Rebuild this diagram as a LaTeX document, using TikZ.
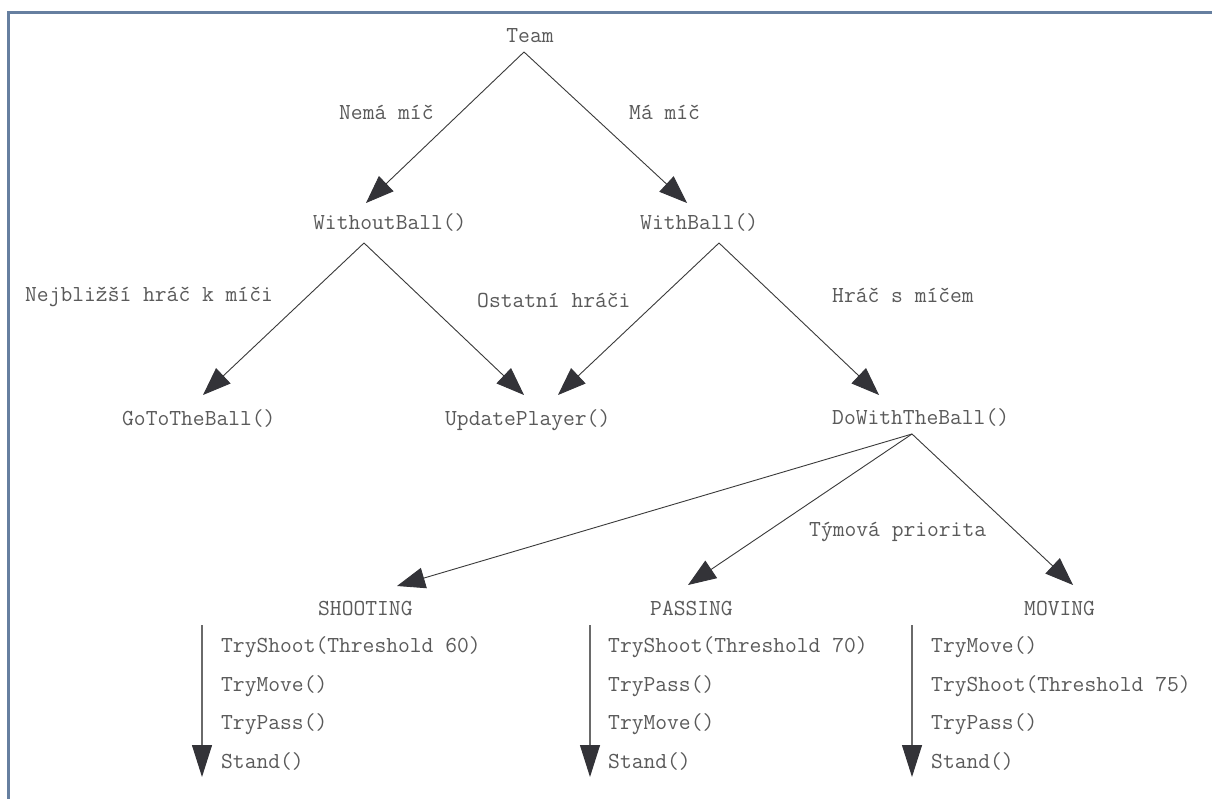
\documentclass[tikz,border=0pt]{standalone}
\usepackage{fontspec}
\usetikzlibrary{arrows.meta}
\definecolor{txtgray}{HTML}{5A5A5A}
\definecolor{linegray}{HTML}{3A3A3A}
\definecolor{headgray}{HTML}{333338}
\definecolor{vgray}{HTML}{6A6A6A}
\definecolor{frameblue}{HTML}{667FA0}
\tikzset{
  lbl/.style={inner sep=0pt, text=txtgray, font=\ttfamily\fontsize{22.9}{27}\selectfont, anchor=base},
  lblw/.style={lbl, anchor=base west},
  conn/.style={draw=linegray, line width=0.9pt, -{Triangle[length=28pt,width=21pt,fill=headgray,color=headgray]}},
  seqarrow/.style={draw=vgray, line width=1.1pt, -{Triangle[length=32pt,width=20pt,fill=headgray,color=headgray]}},
}
\begin{document}
\begin{tikzpicture}[x=1pt,y=-1pt]
\useasboundingbox (0,0) rectangle (1212,799);
\fill[white] (0,0) rectangle (1212,799);
% frame
\draw[frameblue, line width=3pt] (8.5,799) -- (8.5,12.5) -- (1212,12.5);

% nodes
\node[lbl] (team) at (530,43) {Team};
\node[lblw] (lnema) at (339,120) {Nemá míč};
\node[lblw] (lma) at (629,120) {Má míč};
\node[lblw] (wob) at (313,230) {WithoutBall()};
\node[lblw] (wb) at (640,230) {WithBall()};
\node[lblw] (lnej) at (25,302) {Nejbližší hráč k míči};
\node[lblw] (lost) at (477,308) {Ostatní hráči};
\node[lblw] (lhrac) at (832,303) {Hráč s míčem};
\node[lblw] (goto) at (122,425) {GoToTheBall()};
\node[lblw] (upd) at (445,425) {UpdatePlayer()};
\node[lblw] (dwtb) at (832,424) {DoWithTheBall()};
\node[lblw] (ltym) at (809,536) {Týmová priorita};
\node[lblw] (shoot) at (318,615) {SHOOTING};
\node[lblw] (pass) at (650,615) {PASSING};
\node[lblw] (move) at (1024,615) {MOVING};

% sequences
\node[lblw] (s1) at (221,652) {TryShoot(Threshold 60)};
\node[lblw] (s2) at (221,691) {TryMove()};
\node[lblw] (s3) at (221,729.5) {TryPass()};
\node[lblw] (s4) at (221,768) {Stand()};
\node[lblw] (p1) at (608,652) {TryShoot(Threshold 70)};
\node[lblw] (p2) at (608,691) {TryPass()};
\node[lblw] (p3) at (608,729.5) {TryMove()};
\node[lblw] (p4) at (608,768) {Stand()};
\node[lblw] (m1) at (931,652) {TryMove()};
\node[lblw] (m2) at (931,691) {TryShoot(Threshold 75)};
\node[lblw] (m3) at (931,729.5) {TryPass()};
\node[lblw] (m4) at (931,768) {Stand()};

% connector ends
\coordinate (team-out) at (524,52);
\coordinate (wob-in) at (366,203);
\coordinate (wb-in) at (687,203);
\coordinate (wob-out) at (364,243);
\coordinate (wb-out) at (719,243);
\coordinate (goto-in) at (203,395);
\coordinate (upd-inl) at (524,395);
\coordinate (upd-inr) at (558,395);
\coordinate (dwtb-in) at (879,395);
\coordinate (dwtb-out) at (912,434);
\coordinate (shoot-in) at (397,586);
\coordinate (pass-in) at (688,585);
\coordinate (move-in) at (1073,585);
\coordinate (sseq-top) at (202,625);
\coordinate (sseq-end) at (202,777);
\coordinate (pseq-top) at (590,625);
\coordinate (pseq-end) at (590,777);
\coordinate (mseq-top) at (912,625);
\coordinate (mseq-end) at (912,777);

\draw[conn] (team-out) -- (wob-in);
\draw[conn] (team-out) -- (wb-in);
\draw[conn] (wob-out) -- (goto-in);
\draw[conn] (wob-out) -- (upd-inl);
\draw[conn] (wb-out) -- (upd-inr);
\draw[conn] (wb-out) -- (dwtb-in);
\draw[conn] (dwtb-out) -- (shoot-in);
\draw[conn] (dwtb-out) -- (pass-in);
\draw[conn] (dwtb-out) -- (move-in);
\draw[seqarrow] (sseq-top) -- (sseq-end);
\draw[seqarrow] (pseq-top) -- (pseq-end);
\draw[seqarrow] (mseq-top) -- (mseq-end);
\end{tikzpicture}
\end{document}
